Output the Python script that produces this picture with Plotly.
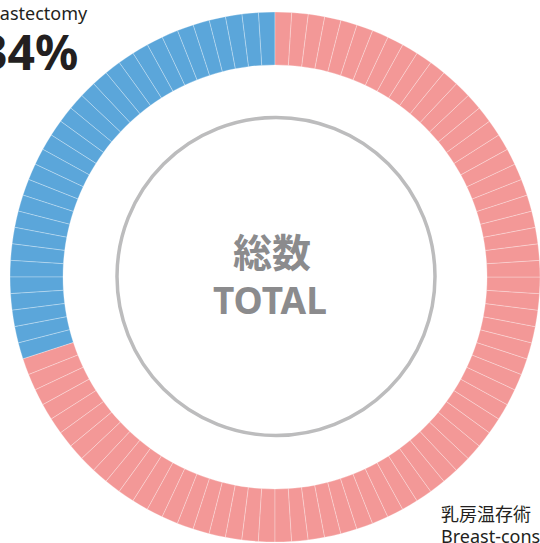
import plotly.graph_objects as go

# ---- data ----
categories = ["乳房切除術 Mastectomy", "乳房温存術 Breast-conserving surgery"]
label_percent = ["34%", "66%"]
drawn_segments = [30, 70]          # segments of the 100-piece ring, as drawn
colors = ["#5ba6da", "#f39897"]
center_title = ["総数", "TOTAL"]

W, H = 540, 543

seg_values, seg_colors = [], []
for n, c in zip(drawn_segments, colors):
    seg_values += [1] * n
    seg_colors += [c] * n

fig = go.Figure()
fig.add_trace(go.Pie(
    values=seg_values,
    sort=False,
    direction="counterclockwise",
    rotation=-3.6,
    hole=0.8,
    marker=dict(colors=seg_colors, line=dict(color="rgba(255,255,255,0.4)", width=0.7)),
    textinfo="none",
    hoverinfo="skip",
    showlegend=False,
    domain=dict(x=[10 / W, 540 / W], y=[1 - 542 / H, 1 - 12 / H]),
))

def px(x):
    return x / W

def py(y):
    return 1 - y / H

# gray inner circle
cx, cy, r = 276, 276.5, 159
fig.add_shape(type="circle", xref="paper", yref="paper",
              x0=px(cx - r), x1=px(cx + r), y0=py(cy + r), y1=py(cy - r),
              line=dict(color="#bcbcbd", width=3.5))

font_family = "Noto Sans, Noto Sans CJK JP, sans-serif"
gray = "#8b8b8d"
dark = "#231f20"

fig.add_annotation(x=px(272), y=py(250), xref="paper", yref="paper",
                   text="<b>" + center_title[0] + "</b>", showarrow=False,
                   font=dict(family="Noto Sans CJK JP", size=39, color=gray),
                   xanchor="center", yanchor="middle")
fig.add_annotation(x=px(270), y=py(299), xref="paper", yref="paper",
                   text="<b>" + center_title[1] + "</b>", showarrow=False,
                   font=dict(family=font_family, size=37, color=gray),
                   xanchor="center", yanchor="middle")

# top-left label (partially outside the picture)
fig.add_annotation(x=px(90), y=py(13), xref="paper", yref="paper",
                   text="mastectomy", showarrow=False,
                   font=dict(family=font_family, size=18, color=dark),
                   xanchor="right", yanchor="middle")
fig.add_annotation(x=px(80), y=py(52), xref="paper", yref="paper",
                   text="<b>" + label_percent[0] + "</b>", showarrow=False,
                   font=dict(family=font_family, size=48, color=dark),
                   xanchor="right", yanchor="middle")

# bottom-right label (partially outside the picture)
fig.add_annotation(x=px(439), y=py(513), xref="paper", yref="paper",
                   text=categories[1].split(" ")[0], showarrow=False,
                   font=dict(family="Noto Sans CJK JP", size=18, color=dark),
                   xanchor="left", yanchor="middle")
fig.add_annotation(x=px(439), y=py(536), xref="paper", yref="paper",
                   text="Breast-conserving surgery", showarrow=False,
                   font=dict(family=font_family, size=18, color=dark),
                   xanchor="left", yanchor="middle")

fig.update_layout(width=W, height=H, margin=dict(l=0, r=0, t=0, b=0),
                  paper_bgcolor="white", plot_bgcolor="white")

fig.write_html("out.html", config={"displayModeBar": False},
               post_script="document.body.style.margin='0';document.body.style.overflow='hidden';")
